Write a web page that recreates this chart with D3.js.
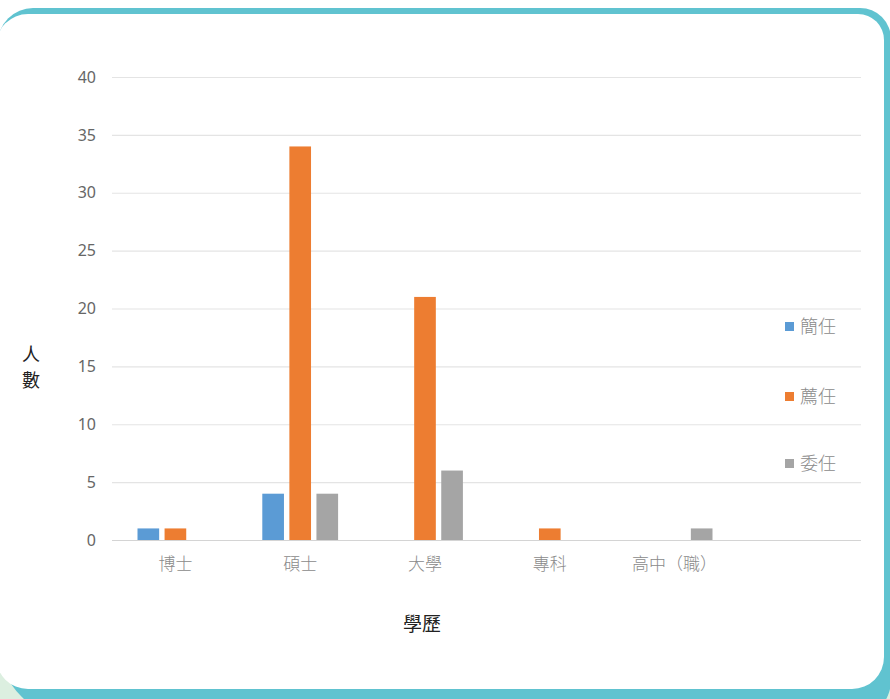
<!DOCTYPE html>
<html>
<head>
<meta charset="utf-8">
<script src="https://cdn.jsdelivr.net/npm/d3@7"></script>
<style>
  html, body { margin: 0; padding: 0; background: #ffffff; overflow: hidden; }
  svg { display: block; }
</style>
</head>
<body>
<svg id="chart"></svg>
<script>
// data
var categories = ["博士", "碩士", "大學", "專科", "高中（職）"];
var seriesNames = ["簡任", "薦任", "委任"];
var jianren = [1, 4, 0, 0, 0];
var jianren2 = [1, 34, 21, 1, 0];
var weiren = [0, 4, 6, 0, 1];
var yTicks = [0, 5, 10, 15, 20, 25, 30, 35, 40];

var seriesValues = [jianren, jianren2, weiren];
var colors = ["#5b9bd5", "#ed7d31", "#a5a5a5"];

var totalWidth = 890;
var totalHeight = 699;

var svg = d3.select("#chart")
    .attr("width", totalWidth)
    .attr("height", totalHeight);

// rounded rect with its own radius on every corner (tl, tr, br, bl)
function roundRect(x, y, w, h, r) {
    var p = d3.path();
    p.moveTo(x + r[0], y);
    p.lineTo(x + w - r[1], y);
    p.arcTo(x + w, y, x + w, y + r[1], r[1]);
    p.lineTo(x + w, y + h - r[2]);
    p.arcTo(x + w, y + h, x + w - r[2], y + h, r[2]);
    p.lineTo(x + r[3], y + h);
    p.arcTo(x, y + h, x, y + h - r[3], r[3]);
    p.lineTo(x, y + r[0]);
    p.arcTo(x, y, x + r[0], y, r[0]);
    p.closePath();
    return p.toString();
}

// card frame (light green page shows only at the bottom corners)
svg.append("rect")
    .attr("x", 0)
    .attr("y", 600)
    .attr("width", totalWidth)
    .attr("height", 99)
    .attr("fill", "#dcefe0");
svg.append("path")
    .attr("d", roundRect(-2, 8, 893, 712, [35, 31, 40, 80]))
    .attr("fill", "#60c3d0");
svg.append("path")
    .attr("d", roundRect(-4, 14, 888, 675, [32, 26, 32, 32]))
    .attr("fill", "#ffffff");

var x0 = d3.scaleBand()
    .domain(categories)
    .range([113, 737])
    .padding(0);

var x1 = d3.scaleBand()
    .domain(seriesNames)
    .range([24.5, 100.3])
    .paddingInner(0.2);

var y = d3.scaleLinear()
    .domain([0, 40])
    .range([540, 77]);

// gridlines
svg.append("g")
    .selectAll("line")
    .data(yTicks)
    .enter()
    .append("line")
    .attr("x1", 112)
    .attr("x2", 861)
    .attr("y1", function (d) { return y(d) + 0.5 })
    .attr("y2", function (d) { return y(d) + 0.5 })
    .attr("stroke", function (d) { return d == 0 ? "#d4d4d4" : "#e4e4e4" })
    .attr("stroke-width", 1.2);

// y axis labels
var yAxis = svg.append("g")
    .attr("transform", "translate(112,0)")
    .call(d3.axisLeft(y).tickValues(yTicks).tickSize(0).tickPadding(16));
yAxis.select(".domain").remove();
yAxis.selectAll("text")
    .attr("font-family", "'Noto Sans', sans-serif")
    .attr("font-size", 16)
    .attr("fill", "#666666");

// x axis labels
var xAxis = svg.append("g")
    .attr("transform", "translate(0,540)")
    .call(d3.axisBottom(x0).tickSize(0).tickPadding(18));
xAxis.select(".domain").remove();
xAxis.selectAll("text")
    .attr("font-family", "'Noto Sans CJK TC', sans-serif")
    .attr("font-size", 17)
    .attr("font-weight", 300)
    .attr("fill", "#8a8a8a");

// bars
var groups = svg.append("g")
    .selectAll("g")
    .data(categories)
    .enter()
    .append("g")
    .attr("transform", function (d) { return "translate(" + x0(d) + ",0)" });

groups.selectAll("rect")
    .data(function (d, i) {
        return seriesNames.map(function (s, j) { return { name: s, value: seriesValues[j][i], idx: j } });
    })
    .enter()
    .append("rect")
    .filter(function (d) { return d.value > 0 })
    .attr("x", function (d) { return x1(d.name) })
    .attr("y", function (d) { return y(d.value) })
    .attr("width", x1.bandwidth())
    .attr("height", function (d) { return y(0) - y(d.value) })
    .attr("fill", function (d) { return colors[d.idx] });

// legend
var legendY = [327, 397, 464];
var legend = svg.append("g")
    .selectAll("g")
    .data(seriesNames)
    .enter()
    .append("g")
    .attr("transform", function (d, i) { return "translate(785," + legendY[i] + ")" });

legend.append("rect")
    .attr("x", 0)
    .attr("y", -5)
    .attr("width", 9)
    .attr("height", 9)
    .attr("fill", function (d, i) { return colors[i] });

legend.append("text")
    .attr("x", 15)
    .attr("y", 0)
    .attr("dy", "0.36em")
    .attr("font-family", "'Noto Sans CJK TC', sans-serif")
    .attr("font-size", 18)
    .attr("font-weight", 300)
    .attr("fill", "#8a8a8a")
    .text(function (d) { return d });

// axis titles
svg.append("text")
    .attr("x", 422)
    .attr("y", 624)
    .attr("dy", "0.36em")
    .attr("text-anchor", "middle")
    .attr("font-family", "'Noto Sans CJK TC', sans-serif")
    .attr("font-size", 19)
    .attr("fill", "#222")
    .text("學歷");

svg.append("text")
    .attr("x", 31)
    .attr("y", 355)
    .attr("dy", "0.36em")
    .attr("text-anchor", "middle")
    .attr("font-family", "'Noto Sans CJK TC', sans-serif")
    .attr("font-size", 18)
    .attr("fill", "#222")
    .text("人");

svg.append("text")
    .attr("x", 31)
    .attr("y", 381)
    .attr("dy", "0.36em")
    .attr("text-anchor", "middle")
    .attr("font-family", "'Noto Sans CJK TC', sans-serif")
    .attr("font-size", 18)
    .attr("fill", "#222")
    .text("數");
</script>
</body>
</html>
